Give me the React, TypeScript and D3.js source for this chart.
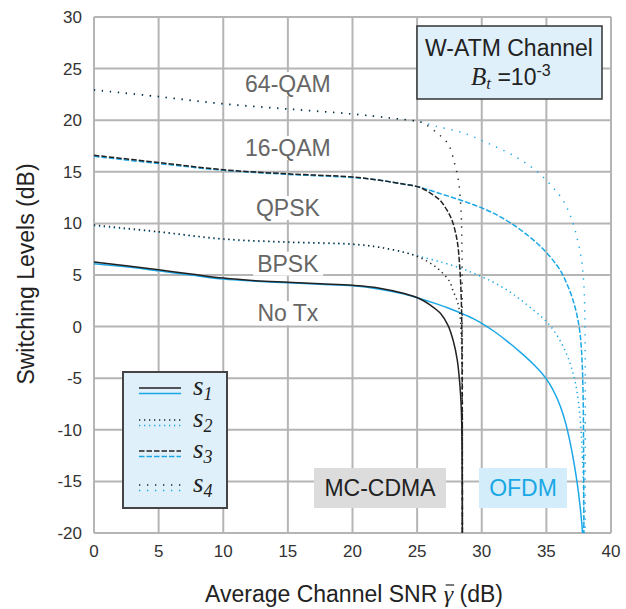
import React, { useEffect, useRef } from "react";
import * as d3 from "d3";

// Switching levels vs. average channel SNR, W-ATM channel, Bt = 1e-3
type Pt = [number, number];

const xTicks = [0, 5, 10, 15, 20, 25, 30, 35, 40];
const yTicks = [30, 25, 20, 15, 10, 5, 0, -5, -10, -15, -20];

// MC-CDMA switching levels
const mcS1: Pt[] = [[0, 6.25], [2.5, 5.9], [5, 5.5], [7.5, 5.1], [10, 4.7], [12.5, 4.45], [15, 4.3], [17.5, 4.15], [20, 4.0], [22, 3.75], [24, 3.2], [25.2, 2.7], [26, 2.1], [26.8, 1.3], [27.4, 0.1], [27.8, -1.4], [28.1, -3.2], [28.3, -5.5], [28.42, -8], [28.48, -12], [28.5, -20]];
const mcS2: Pt[] = [[0, 9.85], [5, 9.2], [10, 8.5], [15, 8.2], [20, 8.0], [22, 7.7], [24, 7.2], [25.2, 6.7], [26.2, 6.0], [26.8, 5.4], [27.5, 4.4], [27.8, 3.4], [28.1, 2.5], [28.3, 1.3], [28.42, -1], [28.47, -5], [28.5, -20]];
const mcS3: Pt[] = [[0, 16.6], [5, 15.9], [10, 15.2], [15, 14.8], [20, 14.5], [22, 14.2], [24, 13.8], [25.2, 13.5], [26.2, 12.8], [26.8, 12.2], [27.3, 11.3], [27.7, 10.3], [28.1, 8.3], [28.3, 5.7], [28.42, 2.5], [28.48, -3], [28.5, -20]];
const mcS4: Pt[] = [[0, 22.95], [5, 22.3], [10, 21.6], [15, 21.1], [20, 20.6], [23, 20.2], [25, 19.9], [25.5, 19.7], [26.5, 18.8], [27.4, 17.7], [27.9, 15.8], [28.2, 14.1], [28.4, 11.2], [28.47, 7], [28.5, 0], [28.5, -20]];

// OFDM switching levels
const ofS1: Pt[] = [[0, 6.1], [2.5, 5.8], [5, 5.4], [7.5, 5.0], [10, 4.6], [12.5, 4.4], [15, 4.25], [17.5, 4.1], [20, 3.95], [22, 3.65], [24, 3.15], [25.2, 2.72], [26.5, 2.2], [27.5, 1.75], [28.5, 1.25], [29.3, 0.8], [30.1, 0.25], [31, -0.5], [32, -1.45], [33, -2.5], [34, -3.65], [34.7, -4.6], [35.2, -5.45], [35.7, -6.6], [36.1, -7.8], [36.5, -9.4], [36.85, -11.3], [37.15, -13.3], [37.4, -15.3], [37.6, -17.3], [37.75, -19.2], [37.8, -20]];
const ofS2: Pt[] = [[0, 9.75], [5, 9.15], [10, 8.45], [15, 8.15], [20, 7.95], [22, 7.7], [24, 7.2], [25.2, 6.8], [27, 6.2], [28.5, 5.6], [29.7, 5.0], [30.9, 4.3], [32, 3.5], [32.9, 2.7], [34, 1.6], [35, 0.5], [35.8, -0.8], [36.4, -2.2], [36.9, -3.8], [37.25, -5.5], [37.5, -7.5], [37.68, -10], [37.8, -13], [37.88, -16.5], [37.9, -20]];
const ofS3: Pt[] = [[0, 16.5], [5, 15.8], [10, 15.15], [15, 14.75], [20, 14.45], [22, 14.2], [24, 13.8], [25.2, 13.5], [27, 12.8], [28.5, 12.2], [30, 11.5], [31.2, 10.8], [32.4, 9.9], [33.6, 8.8], [34.6, 7.7], [35.4, 6.6], [36.1, 5.4], [36.6, 4.1], [37, 2.8], [37.35, 1.2], [37.6, -0.6], [37.75, -3], [37.84, -6.5], [37.88, -12], [37.9, -20]];
const ofS4: Pt[] = [[0, 22.9], [5, 22.25], [10, 21.55], [15, 21.05], [20, 20.6], [23, 20.2], [25, 19.9], [26.5, 19.4], [28.5, 18.8], [30.6, 17.7], [32.7, 16.4], [34.3, 15], [35.5, 13.5], [36.3, 12.2], [36.9, 10.6], [37.35, 8.7], [37.7, 6.6], [37.88, 4.5], [37.97, 1.5], [38.0, -3], [38.0, -20]];

const modLabels = ["64-QAM", "16-QAM", "QPSK", "BPSK", "No Tx"];
const modLabelY = [23.5, 17.3, 11.5, 6.1, 1.3];
const modLabelX = 15;

const BLACK = "#222222";
const BLUE = "#1aa7e6";
const dashes = [null, "1.3 3.7", "5.5 2", "1.3 6.7"];

const SANS = "'Liberation Sans', Arial, Helvetica, sans-serif";
const SERIF = "'Liberation Serif', 'Times New Roman', serif";

export default function App() {
  const ref = useRef<SVGSVGElement | null>(null);

  useEffect(() => {
    const svg = d3.select(ref.current);
    svg.selectAll("*").remove();

    const x = d3.scaleLinear().domain([0, 40]).range([94, 611]);
    const y = d3.scaleLinear().domain([-20, 30]).range([533, 17]);

    svg.append("rect").attr("width", 626).attr("height", 609).attr("fill", "#fff");

    // grid
    const grid = svg.append("g").attr("stroke", "#b5b5b5").attr("stroke-width", 2);
    xTicks.forEach((t) =>
      grid.append("line").attr("x1", x(t)).attr("x2", x(t)).attr("y1", y(30)).attr("y2", y(-20))
    );
    yTicks.forEach((t) =>
      grid.append("line").attr("x1", x(0)).attr("x2", x(40)).attr("y1", y(t)).attr("y2", y(t))
    );

    // tick labels
    const tl = svg.append("g").attr("font-family", SANS).attr("font-size", 17).attr("fill", "#333");
    xTicks.forEach((t) =>
      tl.append("text").attr("x", x(t)).attr("y", 557).attr("text-anchor", "middle").text(String(t))
    );
    yTicks.forEach((t) =>
      tl.append("text").attr("x", 82).attr("y", y(t) + 6).attr("text-anchor", "end").text(String(t))
    );

    // axis titles
    const pre = "Average Channel SNR ";
    const xt = svg.append("text").attr("x", 354).attr("y", 602).attr("text-anchor", "middle")
      .attr("font-family", SANS).attr("font-size", 23).attr("fill", "#222");
    xt.append("tspan").text(pre);
    xt.append("tspan").attr("font-family", SERIF).attr("font-style", "italic").attr("font-size", 24).text("\u03B3");
    xt.append("tspan").text(" (dB)");
    const xtNode = xt.node() as SVGTextElement;
    const g0 = xtNode.getStartPositionOfChar(pre.length);
    const g1 = xtNode.getEndPositionOfChar(pre.length);
    svg.append("line").attr("x1", g0.x + 2).attr("x2", g1.x + 1).attr("y1", 585).attr("y2", 585)
      .attr("stroke", "#222").attr("stroke-width", 1.2);

    svg.append("text").attr("transform", "translate(34,274) rotate(-90)").attr("text-anchor", "middle")
      .attr("font-family", SANS).attr("font-size", 23).attr("fill", "#222").text("Switching Levels (dB)");

    // region labels
    const lg = svg.append("g");
    modLabels.forEach((lab, i) => {
      const t = lg.append("text").attr("x", x(modLabelX)).attr("y", y(modLabelY[i]) + 8)
        .attr("text-anchor", "middle").attr("font-family", SANS).attr("font-size", 23)
        .attr("fill", "#666").text(lab);
      const bb = (t.node() as SVGTextElement).getBBox();
      lg.insert("rect", () => t.node() as any)
        .attr("x", bb.x - 4).attr("y", bb.y + 1).attr("width", bb.width + 8).attr("height", bb.height - 2)
        .attr("fill", "#fff");
    });

    // curves
    svg.append("clipPath").attr("id", "plotclip").append("rect")
      .attr("x", x(0)).attr("y", y(30)).attr("width", x(40) - x(0)).attr("height", y(-20) - y(30) + 1);
    const line = d3.line<Pt>().x((d) => x(d[0])).y((d) => y(d[1])).curve(d3.curveCatmullRom.alpha(0.5));
    const cg = svg.append("g").attr("clip-path", "url(#plotclip)").attr("fill", "none");
    const of = [ofS1, ofS2, ofS3, ofS4];
    const mc = [mcS1, mcS2, mcS3, mcS4];
    of.forEach((d, i) => {
      const p = cg.append("path").attr("d", line(d)).attr("stroke", BLUE).attr("stroke-width", 1.5);
      if (dashes[i]) p.attr("stroke-dasharray", dashes[i]);
    });
    mc.forEach((d, i) => {
      const p = cg.append("path").attr("d", line(d)).attr("stroke", BLACK).attr("stroke-width", 1.5);
      if (dashes[i]) p.attr("stroke-dasharray", dashes[i]);
    });

    // channel box
    svg.append("rect").attr("x", 417).attr("y", 26).attr("width", 185).attr("height", 73)
      .attr("fill", "#dff0fb").attr("stroke", "#333").attr("stroke-width", 1.5);
    svg.append("text").attr("x", 509).attr("y", 56).attr("text-anchor", "middle")
      .attr("font-family", SANS).attr("font-size", 23).attr("fill", "#222").text("W-ATM Channel");
    const bt = svg.append("text").attr("x", 471).attr("y", 85).attr("font-family", SANS)
      .attr("font-size", 23).attr("fill", "#222");
    bt.append("tspan").attr("font-family", SERIF).attr("font-style", "italic").attr("font-size", 25).text("B");
    bt.append("tspan").attr("font-family", SERIF).attr("font-style", "italic").attr("font-size", 17).attr("dy", 4).text("t");
    bt.append("tspan").attr("dy", -4).text(" =10");
    bt.append("tspan").attr("font-size", 16).attr("dy", -9).text("-3");

    // legend
    svg.append("rect").attr("x", 123).attr("y", 372).attr("width", 104).attr("height", 136)
      .attr("fill", "#dff0fb").attr("stroke", "#444").attr("stroke-width", 2);
    const rowY = [388, 420, 451, 485];
    rowY.forEach((ry, i) => {
      const b = svg.append("line").attr("x1", 139).attr("x2", 181).attr("y1", ry).attr("y2", ry)
        .attr("stroke", BLACK).attr("stroke-width", 1.5);
      const c = svg.append("line").attr("x1", 139).attr("x2", 181).attr("y1", ry + 5.5).attr("y2", ry + 5.5)
        .attr("stroke", BLUE).attr("stroke-width", 1.5);
      if (dashes[i]) { b.attr("stroke-dasharray", dashes[i]); c.attr("stroke-dasharray", dashes[i]); }
      const t = svg.append("text").attr("x", 193).attr("y", ry + 7).attr("font-family", SERIF)
        .attr("font-style", "italic").attr("fill", "#222");
      t.append("tspan").attr("font-size", 27).text("s");
      t.append("tspan").attr("font-size", 18).attr("dy", 5).text(String(i + 1));
    });

    // system tags
    svg.append("rect").attr("x", 314).attr("y", 468).attr("width", 132).attr("height", 40).attr("fill", "#dcdcdd");
    svg.append("text").attr("x", 380).attr("y", 496).attr("text-anchor", "middle").attr("font-family", SANS)
      .attr("font-size", 23).attr("fill", "#222").text("MC-CDMA");
    svg.append("rect").attr("x", 479).attr("y", 468).attr("width", 88).attr("height", 40).attr("fill", "#d3eefa");
    svg.append("text").attr("x", 523).attr("y", 496).attr("text-anchor", "middle").attr("font-family", SANS)
      .attr("font-size", 23).attr("fill", BLUE).text("OFDM");
  }, []);

  return (
    <svg ref={ref} width={626} height={609}
      style={{ position: "absolute", left: 0, top: 0, display: "block" }} />
  );
}
